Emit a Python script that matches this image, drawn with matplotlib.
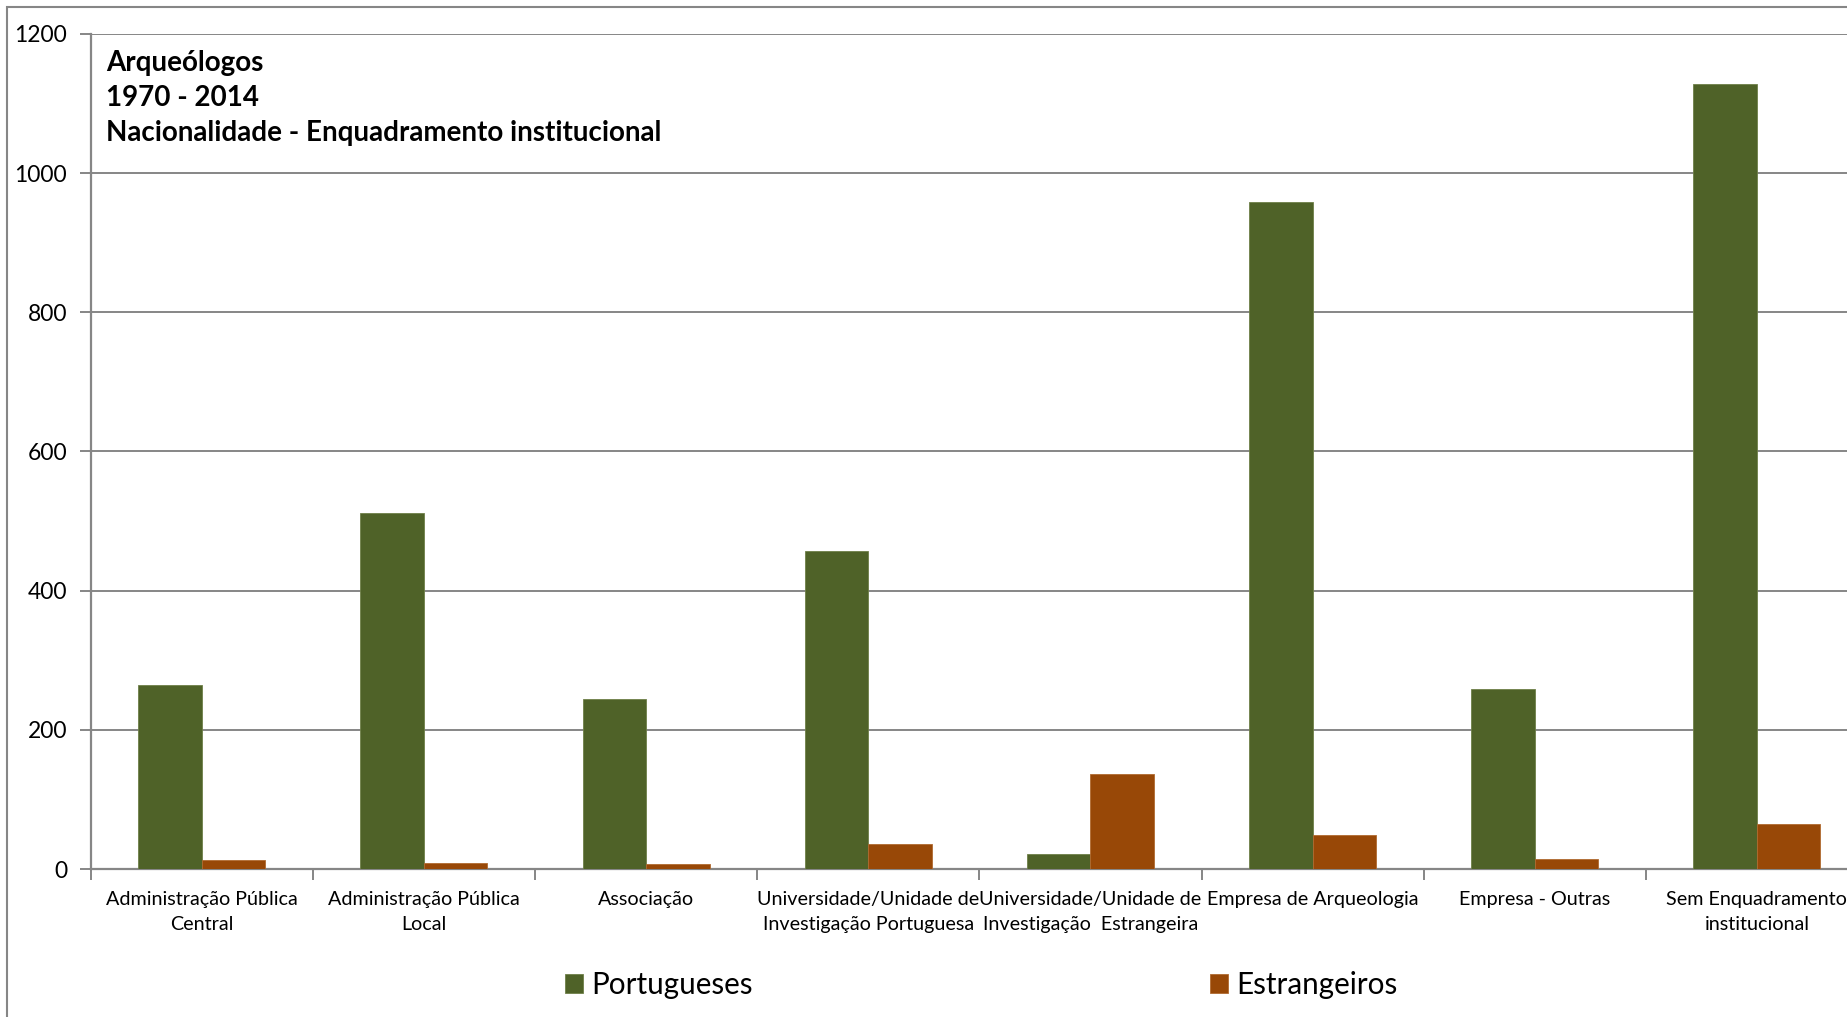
import matplotlib
matplotlib.use("Agg")
import matplotlib.pyplot as plt
import numpy as np
from matplotlib.patches import Rectangle

plt.rcParams['font.family'] = ['Lato', 'DejaVu Sans']

# Data
categories = [
    "Administração Pública\nCentral",
    "Administração Pública\nLocal",
    "Associação",
    "Universidade/Unidade de\nInvestigação Portuguesa",
    "Universidade/Unidade de\nInvestigação  Estrangeira",
    "Empresa de Arqueologia",
    "Empresa - Outras",
    "Sem Enquadramento\ninstitucional",
]
portugueses = [264, 511, 244, 457, 22, 958, 259, 1128]
estrangeiros = [13, 8, 7, 36, 137, 49, 14, 64]
series_names = ["Portugueses", "Estrangeiros"]
title_lines = ["Arqueólogos", "1970 - 2014", "Nacionalidade - Enquadramento institucional"]
yticks = [0, 200, 400, 600, 800, 1000, 1200]

green = '#4F6228'
orange = '#984807'
grey = '#868686'

W, H = 1847, 1017
fig = plt.figure(figsize=(W / 100, H / 100), dpi=100)

# outer chart frame (cut off on the right and bottom, like the reference)
fig.patches.append(Rectangle((7 / W, -0.1), 1.2, (H - 7) / H + 0.1,
                             transform=fig.transFigure, fill=False,
                             edgecolor=grey, linewidth=1.5))

ax = fig.add_axes([90.7 / W, 148 / H, (1868 - 90.7) / W, (869 - 34) / H])

x = np.arange(len(categories))
width = 1 / 3.5
b1 = ax.bar(x - width / 2, portugueses, width, color=green, edgecolor='#6f8048', linewidth=0.6,
            label=series_names[0], zorder=3)
b2 = ax.bar(x + width / 2, estrangeiros, width, color=orange, edgecolor='#b06a30', linewidth=0.6,
            label=series_names[1], zorder=3)

ax.set_xlim(-0.5, len(categories) - 0.5)
ax.set_ylim(0, 1200)
ax.set_yticks(yticks)
ax.set_yticklabels([str(v) for v in yticks], fontsize=16.5)
ax.grid(axis='y', color=grey, linewidth=1.4, zorder=0)

ax.set_xticks(x)
ax.set_xticklabels(categories, fontsize=14.2, linespacing=1.6)
ax.set_xticks(np.arange(len(categories) + 1) - 0.5, minor=True)
ax.tick_params(axis='x', which='major', length=0, pad=15.5)
ax.tick_params(axis='x', which='minor', length=8, width=1.4, color=grey, direction='out')
ax.tick_params(axis='y', length=8, width=1.4, color=grey, direction='out', pad=9)

for side in ['top', 'right']:
    ax.spines[side].set_visible(False)
for side in ['left', 'bottom']:
    ax.spines[side].set_color(grey)
    ax.spines[side].set_linewidth(1.6)

# title block inside the plot area
for i, line in enumerate(title_lines):
    fig.text(106 / W, 1 - (62.5 + i * 35.5) / H, line, fontsize=20, fontweight='bold',
             va='center', ha='left')

# legend: two entries spread far apart
leg_kw = dict(frameon=False, fontsize=21.3, handlelength=0.6, handleheight=0.6,
              handletextpad=0.3, borderpad=0)
fig.legend(handles=[b1], loc='center left', bbox_to_anchor=(550 / W, 1 - 985 / H), **leg_kw)
fig.legend(handles=[b2], loc='center left', bbox_to_anchor=(1195 / W, 1 - 985 / H), **leg_kw)

fig.savefig("out.png", dpi=100)
